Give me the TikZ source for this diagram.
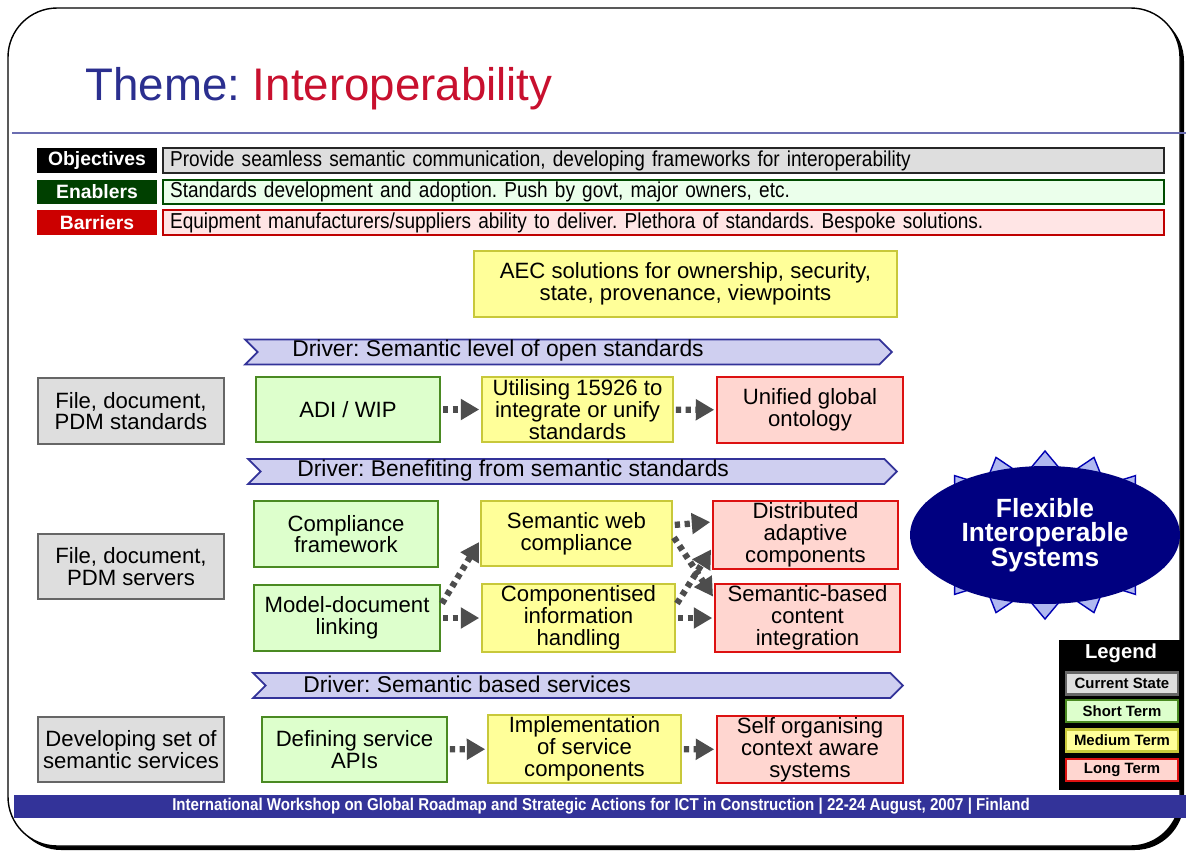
\documentclass[tikz,border=0pt]{standalone}
\usepackage{fontspec}
\setmainfont{Liberation Sans}
\newfontfamily\narrowfont[FakeStretch=0.88]{Liberation Sans}
\usetikzlibrary{shapes.symbols,shapes.geometric,arrows.meta}
\frenchspacing
\definecolor{navy}{HTML}{2B2F8F}
\definecolor{titlered}{HTML}{C8102E}
\definecolor{curfill}{HTML}{DEDEDE}
\definecolor{curline}{HTML}{666666}
\definecolor{shortfill}{HTML}{DDFFCC}
\definecolor{shortline}{HTML}{4A8A22}
\definecolor{medfill}{HTML}{FFFF99}
\definecolor{medline}{HTML}{C8C83A}
\definecolor{longfill}{HTML}{FFD6D0}
\definecolor{longline}{HTML}{DD1111}
\definecolor{drvfill}{HTML}{CFCFF0}
\definecolor{drvline}{HTML}{333399}
\definecolor{flowgray}{HTML}{4D4D4D}
\definecolor{spike}{HTML}{B0B8F0}
\definecolor{footblue}{HTML}{333399}
\tikzset{
	box/.style={draw, line width=1.2pt, align=center, inner sep=1pt, font=\fontsize{12.6}{12.4}\selectfont, minimum height=1.31cm},
	current/.style={box, fill=curfill, draw=curline, minimum width=3.72cm},
	shortterm/.style={box, fill=shortfill, draw=shortline},
	medterm/.style={box, fill=medfill, draw=medline},
	longterm/.style={box, fill=longfill, draw=longline},
	driver/.style={signal, signal from=west, signal to=east, draw=drvline, fill=drvfill, line width=1pt, minimum height=0.5cm, inner sep=0pt},
	drvtext/.style={anchor=west, font=\fontsize{13}{12}\selectfont, inner sep=0pt},
	rowlabel/.style={font=\bfseries\fontsize{11}{11}\selectfont, text=white, minimum width=2.4cm, minimum height=0.49cm, inner sep=0pt},
	rowtext/.style={draw, line width=1.2pt, anchor=west, text width=19.74cm, minimum height=0.49cm, inner sep=0pt, inner xsep=4pt, font=\narrowfont\fontsize{12.3}{12}\selectfont},
	legitem/.style={draw, line width=1.4pt, minimum width=2.24cm, minimum height=0.44cm, inner sep=0pt, font=\bfseries\fontsize{8.5}{8.5}\selectfont},
	flow/.style={draw=flowgray, line width=3.6pt, dash pattern=on 3pt off 2.6pt, -{Triangle[length=10.5pt, width=11.5pt, fill=flowgray]}, shorten <=1pt, shorten >=1pt}
}
\begin{document}
\begin{tikzpicture}[x=0.02cm, y=-0.02cm]
		\useasboundingbox (0,0) rectangle (1186,852);
		\fill [black, rounded corners=28] (12,12) rectangle (1184,850);
		\draw [fill=white, line width=0.8pt, rounded corners=28] (8,8) rectangle (1180,846);
		\node (title)[anchor=base west, inner sep=0pt, font=\fontsize{26}{26}\selectfont] at (85,100) {\textcolor{navy}{Theme:} \textcolor{titlered}{Interoperability}};
		\draw [navy!70, line width=1.3pt] (12,133) -- (1186,133);

		\node (obj)[rowlabel, fill=black] at (97,160.5) {Objectives};
		\node (objtxt)[rowtext, fill=curfill, draw=black!85] at (162,160.5) {Provide seamless semantic communication, developing frameworks for interoperability};
		\node (ena)[rowlabel, fill=green!25!black] at (97,192) {Enablers};
		\node (enatxt)[rowtext, fill=green!8, draw=green!30!black] at (162,192) {Standards development and adoption. Push by govt, major owners, etc.};
		\node (bar)[rowlabel, fill=red!80!black] at (97,222.5) {Barriers};
		\node (bartxt)[rowtext, fill=red!10, draw=red!75!black] at (162,222.5) {Equipment manufacturers/suppliers ability to deliver. Plethora of standards. Bespoke solutions.};

		\node (aec)[medterm, minimum width=8.46cm] at (685.5,284) {AEC solutions for ownership, security,\\state, provenance, viewpoints};

		\node (drvA)[driver, minimum width=12.94cm] at (568.5,352) {};
		\node [drvtext] at (292,351) {Driver: Semantic level of open standards};
		\node (pdmstd)[current] at (131,411) {File, document,\\PDM standards};
		\node (adi)[shortterm, minimum width=3.68cm] at (348,409.5) {ADI / WIP};
		\node (util)[medterm, minimum width=3.82cm] at (577.5,409.5) {Utilising 15926 to\\integrate or unify\\standards};
		\node (onto)[longterm, minimum width=3.72cm] at (810,410) {Unified global\\ontology};
		\draw [flow] (adi) -- (util);
		\draw [flow] (util) -- (onto);

		\node (drvB)[driver, minimum width=12.98cm] at (572.5,471.5) {};
		\node [drvtext] at (297,470.5) {Driver: Benefiting from semantic standards};
		\node (pdmsrv)[current] at (131,566.5) {File, document,\\PDM servers};
		\node (comply)[shortterm, minimum width=3.68cm] at (346,534) {Compliance\\framework};
		\node (semweb)[medterm, minimum width=3.82cm] at (576.5,533.5) {Semantic web\\compliance};
		\node (distr)[longterm, minimum width=3.7cm, minimum height=1.36cm] at (805.5,535) {Distributed\\adaptive\\components};
		\node (model)[shortterm, minimum width=3.72cm] at (347,618) {Model-document\\linking};
		\node (compo)[medterm, minimum width=3.86cm] at (578.5,618) {Componentised\\information\\handling};
		\node (sembas)[longterm, minimum width=3.7cm] at (807.5,618) {Semantic-based\\content\\integration};
		\draw [flow] (model.east) -- (compo.west);
		\draw [flow] ([yshift=0.26cm]model.east) -- ([yshift=-0.14cm]semweb.west);
		\draw [flow] ([yshift=0.17cm]semweb.east) -- ([yshift=0.26cm]distr.west);
		\draw [flow] ([yshift=-0.05cm]semweb.east) -- ([yshift=0.4cm]sembas.west);
		\draw [flow] ([yshift=0.26cm]compo.east) -- ([yshift=-0.26cm]distr.west);
		\draw [flow] (compo.east) -- (sembas.west);

		\node (drvC)[driver, minimum width=13cm] at (578,685.5) {};
		\node [drvtext] at (303,684.5) {Driver: Semantic based services};
		\node (semsrv)[current] at (131,749.5) {Developing set of\\semantic services};
		\node (apis)[shortterm, minimum width=3.7cm] at (354.5,749.5) {Defining service\\APIs};
		\node (impl)[medterm, minimum width=3.86cm] at (584.5,749) {Implementation\\of service\\components};
		\node (selforg)[longterm, minimum width=3.72cm] at (810,749.5) {Self organising\\context aware\\systems};
		\draw [flow] (apis) -- (impl);
		\draw [flow] (impl) -- (selforg);

		\fill [spike, draw=blue!70!black, line width=0.8pt] (1045+128,535)
			\foreach \a in {0,22.5,...,337.5}{ -- ({1045+108*cos(\a+11.25)},{535+60*sin(\a+11.25)}) -- ({1045+128*cos(\a+22.5)},{535+84*sin(\a+22.5)}) } -- cycle;
		\node (fis)[ellipse, fill=blue!50!black, minimum width=5.4cm, minimum height=2.76cm, align=center, text=white, font=\bfseries\fontsize{15}{14}\selectfont] at (1045,535) {Flexible\\Interoperable\\Systems};

		\node (legend)[fill=black, minimum width=2.48cm, minimum height=3cm] at (1121,715) {};
		\node (legtitle)[text=white, font=\bfseries\fontsize{11.5}{11.5}\selectfont] at (1121,653) {Legend};
		\node (legcur)[legitem, fill=curfill, draw=curline] at (1122,683.5) {Current State};
		\node (legshort)[legitem, fill=shortfill, draw=shortline] at (1122,711) {Short Term};
		\node (legmed)[legitem, fill=medfill, draw=medline] at (1122,740.5) {Medium Term};
		\node (leglong)[legitem, fill=longfill, draw=longline] at (1122,770) {Long Term};

		\fill [footblue] (14,795) rectangle (1186,818);
		\node (footer)[text=white, font=\narrowfont\bfseries\fontsize{9.75}{9.75}\selectfont] at (601,806.5) {International Workshop on Global Roadmap and Strategic Actions for ICT in Construction | 22-24 August, 2007 | Finland};
	\end{tikzpicture}
\end{document}
